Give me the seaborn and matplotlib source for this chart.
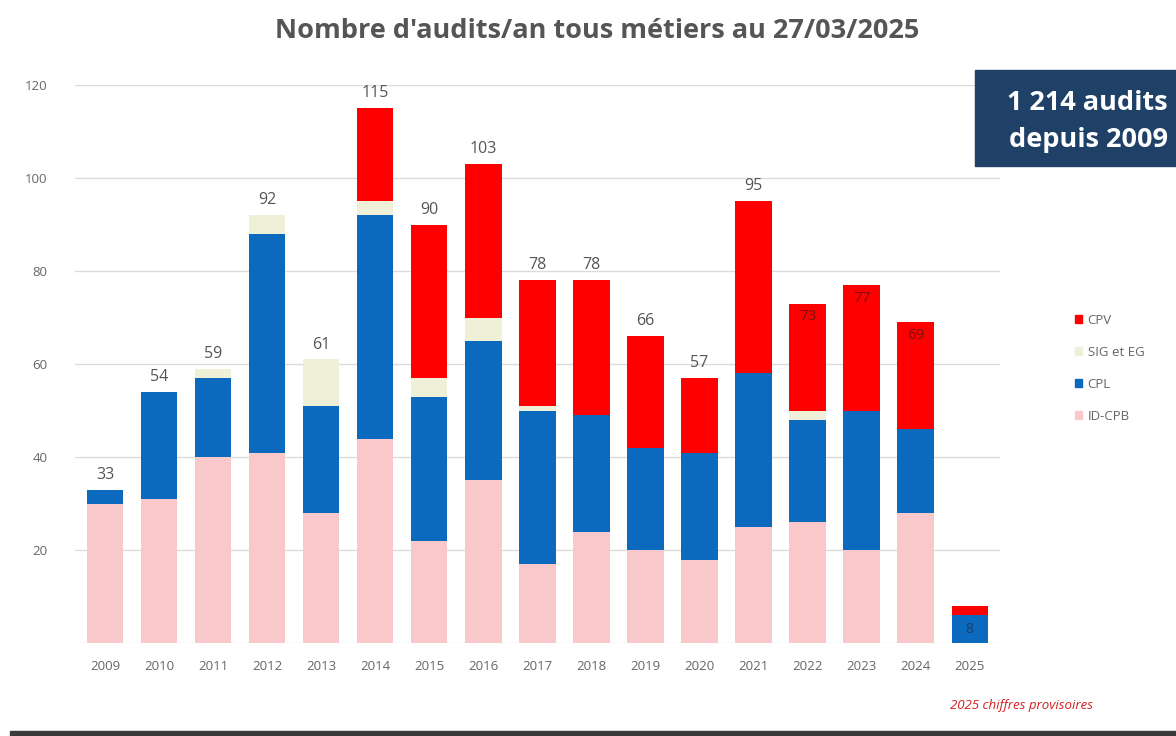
import numpy as np
import pandas as pd
import seaborn as sns
import matplotlib.pyplot as plt
from matplotlib.patches import Rectangle, Patch

# Data
years = ['2009', '2010', '2011', '2012', '2013', '2014', '2015', '2016', '2017',
         '2018', '2019', '2020', '2021', '2022', '2023', '2024', '2025']
id_cpb = [30, 31, 40, 41, 28, 44, 22, 35, 17, 24, 20, 18, 25, 26, 20, 28, 0]
cpl = [3, 23, 17, 47, 23, 48, 31, 30, 33, 25, 22, 23, 33, 22, 30, 18, 6]
sig_eg = [0, 0, 2, 4, 10, 3, 4, 5, 1, 0, 0, 0, 0, 2, 0, 0, 0]
cpv = [0, 0, 0, 0, 0, 20, 33, 33, 27, 29, 24, 16, 37, 23, 27, 23, 2]
totals = [33, 54, 59, 92, 61, 115, 90, 103, 78, 78, 66, 57, 95, 73, 77, 69, 8]

# labels drawn inside the bar (dark) for the last years
inside_labels = ['2022', '2023', '2024']

col_cpv = '#fe0000'
col_sig = '#eef0d8'
col_cpl = '#0b6abd'
col_id = '#f9c8ca'

df = pd.DataFrame({'year': years, 'ID-CPB': id_cpb, 'CPL': cpl,
                   'SIG et EG': sig_eg, 'CPV': cpv})
df['c1'] = df['ID-CPB']
df['c2'] = df['c1'] + df['CPL']
df['c3'] = df['c2'] + df['SIG et EG']
df['c4'] = df['c3'] + df['CPV']

sns.set_style('white')
plt.rcParams['font.family'] = ['Open Sans', 'DejaVu Sans']

fig = plt.figure(figsize=(11.76, 7.36), dpi=100)
ax = fig.add_axes([0.064, 0.126, 0.786, 0.7585])

# stacked bars: draw cumulative totals from top layer down
for col, color in [('c4', col_cpv), ('c3', col_sig), ('c2', col_cpl), ('c1', col_id)]:
    sns.barplot(data=df, x='year', y=col, color=color, width=0.67,
                saturation=1, linewidth=0, ax=ax, zorder=3)

ax.set_xlim(-0.555, 16.555)
ax.set_ylim(0, 120)
ax.set_yticks([20, 40, 60, 80, 100, 120])
ax.yaxis.grid(True, color='#dcdcdc', linewidth=1, zorder=0)
ax.axhline(0, color='#e4e4e4', linewidth=1, zorder=0)
ax.set_xlabel('')
ax.set_ylabel('')
ax.tick_params(axis='both', length=0, labelsize=9.5, labelcolor='#666666')
ax.tick_params(axis='x', pad=12)
ax.tick_params(axis='y', pad=20)
sns.despine(ax=ax, left=True, bottom=True)

# value labels
for i, (y, t) in enumerate(zip(years, totals)):
    if y in inside_labels:
        ax.text(i, t - 1.2, str(t), ha='center', va='top', fontsize=11,
                color='#7a1010', zorder=5)
    elif y == '2025':
        ax.text(i, cpl[i] / 2, str(t), ha='center', va='center', fontsize=10,
                color='#1d3f6a', zorder=5)
    else:
        ax.text(i, t + 1.5, str(t), ha='center', va='bottom', fontsize=11.5,
                color='#555555', zorder=5)

fig.text(0.508, 0.958, "Nombre d'audits/an tous métiers au 27/03/2025",
         ha='center', va='center', fontsize=19.5, fontweight='bold', color='#555555')

# navy box top-right
fig.patches.append(Rectangle((975 / 1176, 1 - 166 / 736), 201 / 1176, 96 / 736,
                             transform=fig.transFigure, color='#1f4168', zorder=5))
fig.text(0.993, 1 - 103 / 736, '1 214 audits', ha='right', va='center',
         fontsize=19.5, fontweight='bold', color='white', zorder=6)
fig.text(0.993, 1 - 140 / 736, 'depuis 2009', ha='right', va='center',
         fontsize=19.5, fontweight='bold', color='white', zorder=6)

# legend
handles = [Patch(color=col_cpv, label='CPV'), Patch(color=col_sig, label='SIG et EG'),
           Patch(color=col_cpl, label='CPL'), Patch(color=col_id, label='ID-CPB')]
leg = fig.legend(handles=handles, loc='upper left', bbox_to_anchor=(0.904, 0.59),
                 frameon=False, fontsize=9.5, handlelength=0.55, handleheight=0.55,
                 handletextpad=0.4, labelspacing=1.45)
for t in leg.get_texts():
    t.set_color('#666666')

fig.text(0.808, 1 - 706 / 736, '2025 chiffres provisoires', ha='left', va='center',
         fontsize=9.5, color='#d42020', style='italic')

# dark shadow band at the bottom
fig.patches.append(Rectangle((10 / 1176, 0), 1, 5 / 736, transform=fig.transFigure,
                             color='#3a3a3a', zorder=5))

fig.savefig('out.png', dpi=100)
